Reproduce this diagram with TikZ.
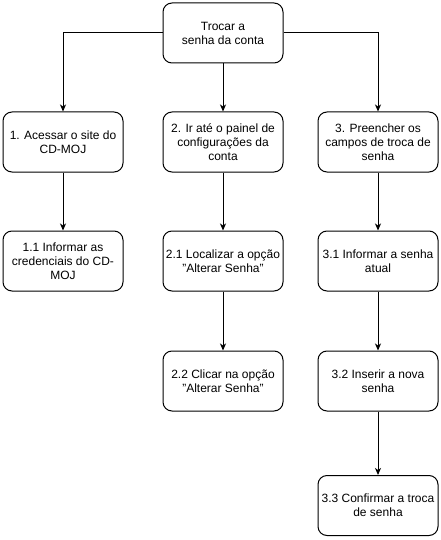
\documentclass[tikz,border=0pt]{standalone}
\usepackage{fontspec}
\setmainfont{Liberation Sans}
\usetikzlibrary{arrows.meta}
\begin{document}
\begin{tikzpicture}[x=1pt,y=-1pt,
  stepbox/.style={draw=black, line width=1pt, rounded corners=9pt, minimum width=120pt, minimum height=60pt,
    align=center, inner sep=2pt, font=\fontsize{12pt}{14pt}\selectfont, fill=white},
  conn/.style={line width=1pt, -{Stealth[length=7pt,width=6pt,inset=2pt]}}]
\useasboundingbox (0,0) rectangle (441,540);
\fill[white] (0,0) rectangle (441,540);
\node[stepbox] (top) at (223,33) {Trocar a\\senha da conta};
\node[stepbox] (a1) at (63,142) {1. Acessar o site do\\CD-MOJ};
\node[stepbox] (a2) at (63,261) {1.1 Informar as\\credenciais do CD-\\MOJ};
\node[stepbox] (b1) at (223,142) {2. Ir até o painel de\\configurações da\\conta};
\node[stepbox] (b2) at (223,261) {2.1 Localizar a opção\\"Alterar Senha"};
\node[stepbox] (b3) at (223,381) {2.2 Clicar na opção\\"Alterar Senha"};
\node[stepbox] (c1) at (378,142) {3. Preencher os\\campos de troca de\\senha};
\node[stepbox] (c2) at (378,261) {3.1 Informar a senha\\atual};
\node[stepbox] (c3) at (378,381) {3.2 Inserir a nova\\senha};
\node[stepbox] (c4) at (378,505.5) {3.3 Confirmar a troca\\de senha};
\draw[conn] (top.west) -| (a1.north);
\draw[conn] (top.east) -| (c1.north);
\draw[conn] (top.south) -- (b1.north);
\draw[conn] (a1) -- (a2);
\draw[conn] (b1) -- (b2);
\draw[conn] (b2) -- (b3);
\draw[conn] (c1) -- (c2);
\draw[conn] (c2) -- (c3);
\draw[conn] (c3) -- (c4);
\end{tikzpicture}
\end{document}
